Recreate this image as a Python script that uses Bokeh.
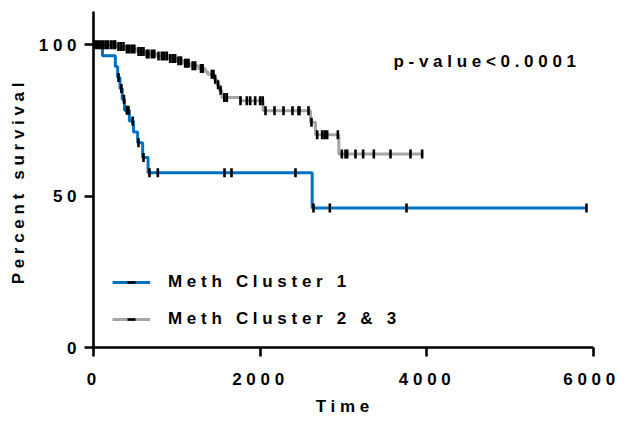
import numpy as np
from bokeh.plotting import figure
from bokeh.models import Legend, LegendItem, Label, FixedTicker, LinearAxis
from bokeh.embed import file_html
from bokeh.resources import INLINE

# ---- data ----
series_names = ["Meth Cluster 1", "Meth Cluster 2 & 3"]

# Meth Cluster 1: event times and survival (%) after each event
c1_times = [0, 108, 262, 290, 318, 345, 372, 430, 480, 530, 590, 655, 2624]
c1_surv = [100, 96.4, 92.8, 89.2, 85.6, 82.0, 78.4, 74.8, 71.2, 67.6, 62.8, 57.7, 46.1]
c1_censor = [300, 335, 365, 400, 420, 470, 540, 600, 672, 772, 1572, 1656, 2424,
             2640, 2836, 3756, 5916]

# Meth Cluster 2 & 3
c2_times = [0, 280, 380, 520, 620, 760, 900, 1000, 1080, 1160, 1260, 1340, 1370,
            1450, 1480, 1510, 1540, 1764, 2036, 2604, 2664, 2944]
c2_surv = [100, 99.4, 98.6, 97.8, 97.0, 96.3, 95.5, 94.7, 93.9, 93.1, 92.2, 91.2, 90.3,
           88.6, 86.8, 85.0, 82.6, 81.5, 78.2, 74.4, 70.3, 63.9]
c2_censor = [20, 45, 70, 95, 120, 150, 175, 210, 240, 260, 300, 330, 360, 400, 430,
             460, 490, 540, 570, 600, 640, 660, 700, 730, 780, 820, 850, 880, 920,
             950, 980, 1020, 1050, 1100, 1120, 1140, 1190, 1220, 1290, 1310, 1420,
             1440, 1460, 1495, 1525, 1570, 1600, 1764, 1840, 1880, 1940, 2000, 2030,
             2064, 2172, 2280, 2388, 2460, 2472, 2580, 2616, 2684, 2744, 2774, 2804,
             2932, 2980, 3024, 3044, 3144, 3236, 3364, 3564, 3804, 3944]

p_text = "p-value<0.0001"
x_title = "Time"
y_title = "Percent survival"
x_ticks = [0, 2000, 4000, 6000]
y_ticks = [0, 50, 100]
x_axis_end = 6000
y_axis_end = 111
colors = ["#0070C0", "#A6A6A6"]

FONT = "Liberation Sans"
SP = 4.7          # letter spacing (px) of the reference's spaced-out bold text
FSZ = 17
FS = f"{FSZ}px"
DIGIT = 0.556 * FSZ   # advance of a digit in Liberation Sans Bold

W, H = 619, 423
# pixel position of the axes' origin and px per data unit in the page
OX, OY = 93, 347
KX = 500 / x_axis_end
KY = 336 / y_axis_end
x_rng = (-OX / KX, (W - OX) / KX)
y_rng = (-(H - OY) / KY, OY / KY)

p = figure(width=W, height=H, output_backend="svg", toolbar_location=None,
           x_range=x_rng, y_range=y_rng, x_axis_location=None, y_axis_location=None,
           min_border=0, styles={"letter-spacing": f"{SP}px"})
p.outline_line_color = None
p.grid.visible = False
p.background_fill_color = "white"
p.border_fill_color = "white"


def surv_at(times, surv, t):
    idx = np.searchsorted(np.asarray(times), t, side="right") - 1
    return np.asarray(surv)[idx]


items = []
for name, times, surv, cens, col in [
    (series_names[0], c1_times, c1_surv, c1_censor, colors[0]),
    (series_names[1], c2_times, c2_surv, c2_censor, colors[1]),
]:
    xs = list(times) + [max(cens)]
    ys = list(surv) + [surv[-1]]
    lr = p.step(xs, ys, mode="after", line_color=col, line_width=3)
    cy = surv_at(times, surv, cens)
    tr = p.scatter(cens, cy, marker="dash", angle=np.pi / 2, size=9,
                   line_color="black", line_width=2.6)
    items.append(LegendItem(label=name, renderers=[lr, tr]))

# axes: real Bokeh axes pinned at the data origin
xax = LinearAxis(fixed_location=0, bounds=(0, x_axis_end), ticker=FixedTicker(ticks=x_ticks))
yax = LinearAxis(fixed_location=0, bounds=(0, y_axis_end), ticker=FixedTicker(ticks=y_ticks))
for ax in (xax, yax):
    ax.axis_line_width = 2.6
    ax.axis_line_color = "black"
    ax.major_tick_line_width = 2.6
    ax.major_tick_line_color = "black"
    ax.major_tick_out = 0
    ax.major_tick_in = 9
    ax.minor_tick_line_color = None
    ax.major_label_text_font_size = "0px"
    ax.major_label_text_color = None
    ax.major_label_standoff = 0
p.add_layout(xax, "above")
p.add_layout(yax, "right")

legend = Legend(items=items, location=(112, H - 329), padding=0, margin=0,
                border_line_color=None, background_fill_alpha=0,
                glyph_width=38, glyph_height=20, label_height=20, spacing=17,
                label_standoff=18, label_text_font=FONT, label_text_font_style="bold",
                label_text_font_size=FS, label_text_color="black")
p.add_layout(legend, "center")

txt = dict(text_font=FONT, text_font_style="bold", text_font_size=FS, text_color="black")

p.add_layout(Label(x=3600, y=94.5, text=p_text, text_baseline="middle", **txt))

# tick labels (letter-spaced text, offsets compensate the extra spacing)
for t in x_ticks:
    s = str(t)
    off = -2 - (len(s) - 1) * SP / 2
    # keep the whole spaced label (incl. trailing spacing) inside the page
    half = (len(s) * DIGIT + len(s) * SP) / 2
    right = OX + t * KX + off + (len(s) - 1) * SP / 2 + half
    if right > W - 2:
        off -= right - (W - 2)
    p.add_layout(Label(x=t, y=0, x_offset=off, y_offset=-31,
                       text=s, text_align="center", text_baseline="middle", **txt))
for v in y_ticks:
    s = str(v)
    p.add_layout(Label(x=0, y=v, x_offset=-17 - (len(s) - 1) * SP, y_offset=0,
                       text=s, text_align="right", text_baseline="middle", **txt))

# axis titles
p.add_layout(Label(x=x_axis_end / 2, y=0, x_offset=-1 - (len(x_title) - 1) * SP / 2,
                   y_offset=-59, text=x_title, text_align="center",
                   text_baseline="middle", **txt))
p.add_layout(Label(x=0, y=54.2, x_offset=-75.5, y_offset=-(len(y_title) - 1) * SP / 2,
                   text=y_title, text_align="center", text_baseline="middle",
                   angle=np.pi / 2, **txt))

open("out.html", "w").write(file_html(p, INLINE))
